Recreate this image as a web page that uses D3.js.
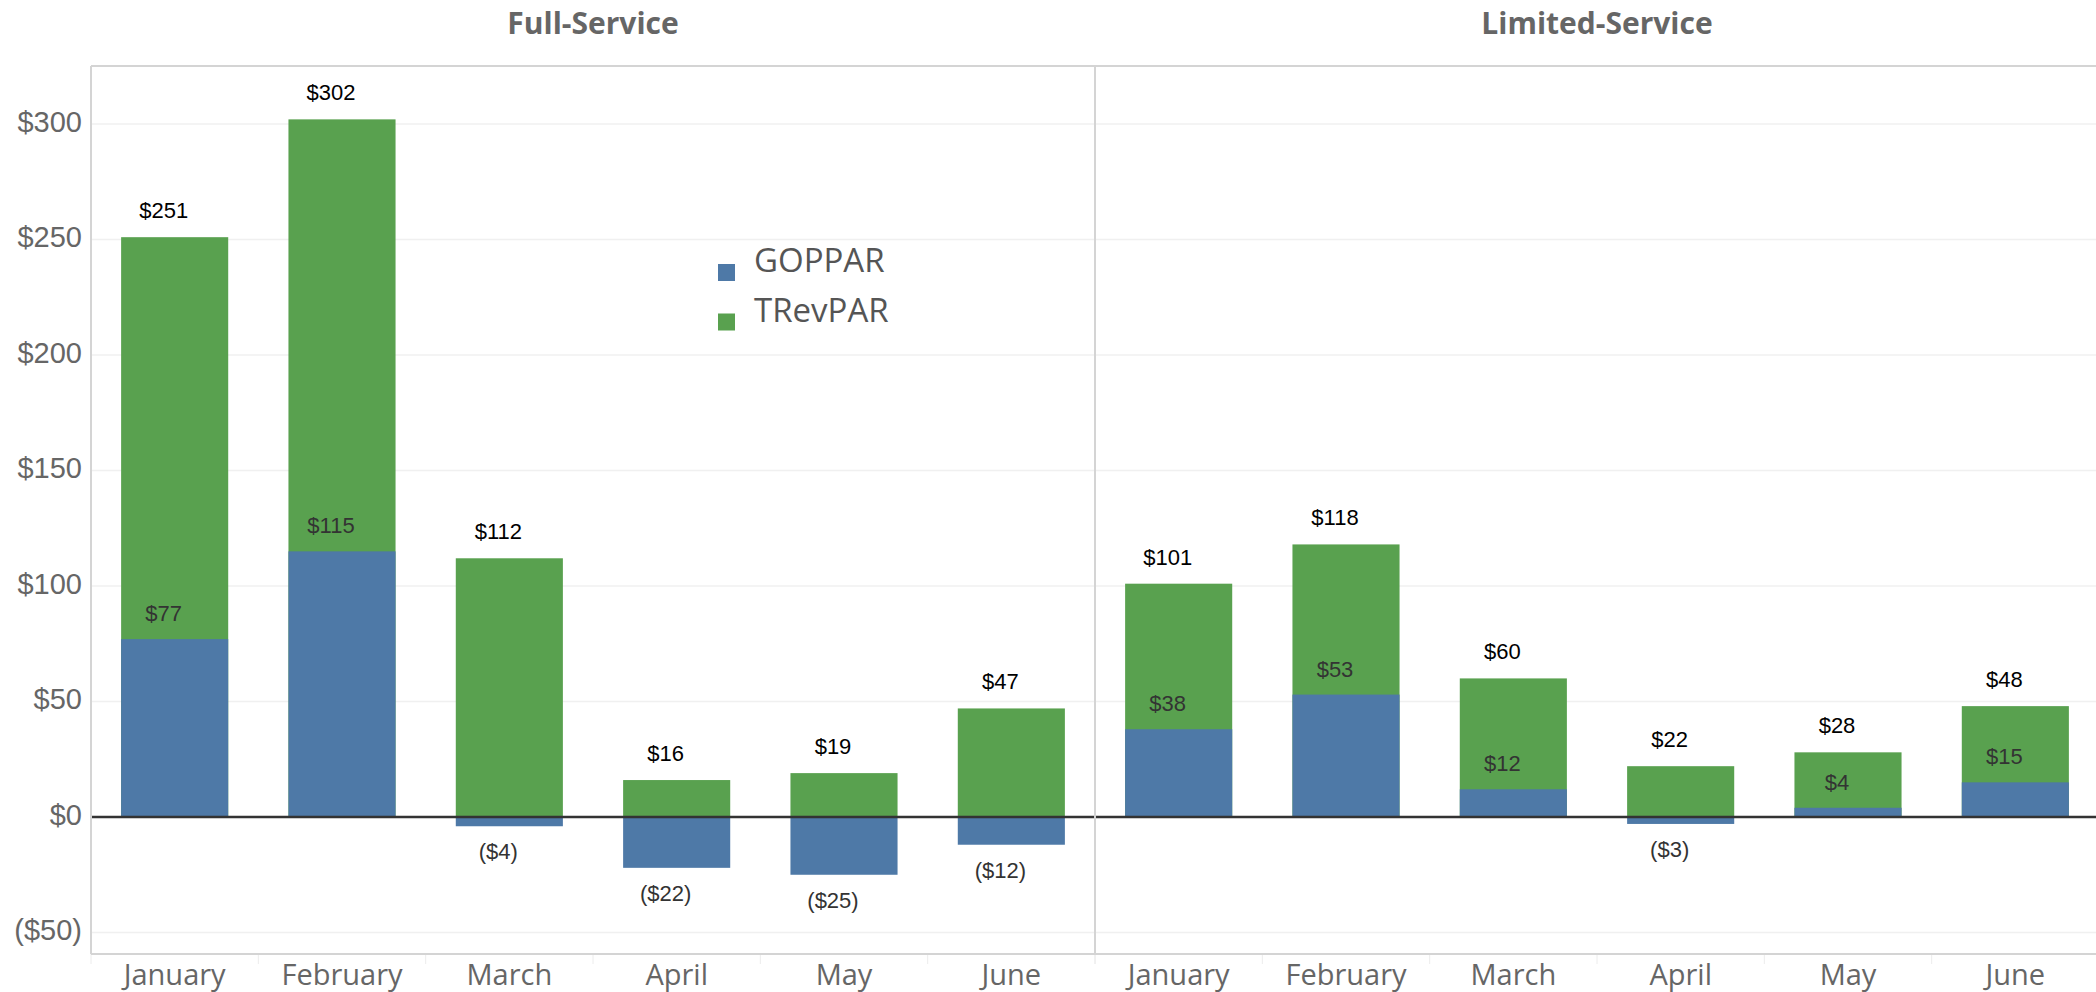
<!doctype html>
<html>
  <head>
    <script src="https://cdnjs.cloudflare.com/ajax/libs/d3/7.8.5/d3.min.js"></script>
    <style>
      body { margin: 0; background: #fff; }
      svg { display: block; }
      text.title { font-family: "Open Sans", sans-serif; font-weight: 700; font-size: 30px; fill: #666; }
      text.ytick { font-family: "Liberation Sans", Arial, sans-serif; font-size: 29px; fill: #666; }
      text.month { font-family: "Open Sans", sans-serif; font-size: 29px; fill: #666; }
      text.legend { font-family: "Open Sans", sans-serif; font-size: 33px; fill: #555; }
      text.value { font-family: "Liberation Sans", Arial, sans-serif; font-size: 22px; }
      line.grid { stroke: #f0f0f0; stroke-width: 1.5; }
      line.frame { stroke: #d4d4d4; stroke-width: 2; }
      line.zero { stroke: #333; stroke-width: 2.5; }
    </style>
  </head>
  <body>
    <svg width="2096" height="992"></svg>
    <script>
      var months = ["January", "February", "March", "April", "May", "June"];
      var segments = ["Full-Service", "Limited-Service"];
      var seriesNames = ["GOPPAR", "TRevPAR"];
      var seriesColors = ["#4e79a7", "#59a14f"];

      var fullTRevPAR = [251, 302, 112, 16, 19, 47];
      var fullGOPPAR = [77, 115, -4, -22, -25, -12];
      var limitedTRevPAR = [101, 118, 60, 22, 28, 48];
      var limitedGOPPAR = [38, 53, 12, -3, 4, 15];

      var yTicks = [-50, 0, 50, 100, 150, 200, 250, 300];

      drawChart();

      function drawChart() {
        var trev = [fullTRevPAR, limitedTRevPAR];
        var gop = [fullGOPPAR, limitedGOPPAR];

        var plotLeft = 91, plotTop = 66, plotBottom = 954, panelW = 1004;
        var svg = d3.select("svg");

        var y = d3.scaleLinear().domain([-59.3, 325.1]).range([plotBottom, plotTop]);
        var money = v => v < 0 ? "($" + (-v) + ")" : "$" + v;

        // gridlines
        svg.selectAll("line.grid").data(yTicks.filter(d => d !== 0))
          .enter().append("line")
            .attr("class", "grid")
            .attr("x1", plotLeft).attr("x2", 2096)
            .attr("y1", d => y(d)).attr("y2", d => y(d));

        svg.selectAll("text.ytick").data(yTicks)
          .enter().append("text")
            .attr("class", "ytick")
            .attr("text-anchor", "end")
            .attr("x", 82)
            .attr("y", d => y(d))
            .attr("dy", "0.27em")
            .text(money);

        segments.forEach(function (seg, si) {
          var x0 = plotLeft + si * panelW;
          var x = d3.scaleBand().domain(months)
            .range([x0, x0 + panelW])
            .paddingInner(0.36)
            .paddingOuter(0.18);
          var g = svg.append("g");

          g.append("text")
            .attr("class", "title")
            .attr("text-anchor", "middle")
            .attr("x", x0 + panelW / 2)
            .attr("y", 34)
            .text(seg);

          var rows = months.map((m, i) => ({ m: m, t: trev[si][i], g: gop[si][i] }));

          g.selectAll("rect.trev").data(rows).enter().append("rect")
            .attr("class", "trev")
            .attr("fill", seriesColors[1])
            .attr("x", d => x(d.m)).attr("width", x.bandwidth())
            .attr("y", d => y(Math.max(0, d.t)))
            .attr("height", d => Math.abs(y(d.t) - y(0)));

          g.selectAll("rect.gop").data(rows).enter().append("rect")
            .attr("class", "gop")
            .attr("fill", seriesColors[0])
            .attr("x", d => x(d.m)).attr("width", x.bandwidth())
            .attr("y", d => y(Math.max(0, d.g)))
            .attr("height", d => Math.abs(y(d.g) - y(0)));

          var cx = d => x(d.m) + x.bandwidth() / 2 - 11;

          g.selectAll("text.trevlab").data(rows).enter().append("text")
            .attr("class", "value trevlab")
            .attr("fill", "#000")
            .attr("text-anchor", "middle")
            .attr("x", cx)
            .attr("y", d => y(d.t) - 19)
            .text(d => money(d.t));

          g.selectAll("text.goplab").data(rows).enter().append("text")
            .attr("class", "value goplab")
            .attr("fill", "#333")
            .attr("text-anchor", "middle")
            .attr("x", cx)
            .attr("y", d => d.g >= 0 ? y(d.g) - 18 : y(d.g) + 33)
            .text(d => money(d.g));

          g.selectAll("text.month").data(months).enter().append("text")
            .attr("class", "month")
            .attr("text-anchor", "middle")
            .attr("x", d => x(d) + x.bandwidth() / 2)
            .attr("y", 985)
            .text(d => d);

          // small separators under the axis between months
          g.selectAll("line.sep").data(d3.range(7)).enter().append("line")
            .attr("class", "sep")
            .attr("x1", i => x0 + i * panelW / 6).attr("x2", i => x0 + i * panelW / 6)
            .attr("y1", plotBottom).attr("y2", plotBottom + 10)
            .attr("stroke", "#ececec").attr("stroke-width", 1);
        });

        // frame
        svg.append("line").attr("class", "zero")
          .attr("x1", plotLeft).attr("x2", 2096).attr("y1", y(0)).attr("y2", y(0));
        svg.append("line").attr("class", "frame")
          .attr("x1", plotLeft).attr("x2", 2096).attr("y1", plotTop).attr("y2", plotTop);
        svg.append("line").attr("class", "frame")
          .attr("x1", plotLeft).attr("x2", 2096).attr("y1", plotBottom).attr("y2", plotBottom);
        svg.append("line").attr("class", "frame")
          .attr("x1", plotLeft).attr("x2", plotLeft).attr("y1", plotTop).attr("y2", plotBottom);
        svg.append("line").attr("class", "frame")
          .attr("x1", plotLeft + panelW).attr("x2", plotLeft + panelW).attr("y1", plotTop).attr("y2", plotBottom);

        // legend
        var legend = svg.append("g").selectAll("g").data(seriesNames)
          .enter().append("g")
            .attr("transform", (d, i) => "translate(718," + (264 + i * 49.5) + ")");
        legend.append("rect")
          .attr("width", 17).attr("height", 17)
          .attr("fill", (d, i) => seriesColors[i]);
        legend.append("text")
          .attr("class", "legend")
          .attr("x", 36).attr("y", 8)
          .text(d => d);
      }
    </script>
  </body>
</html>
